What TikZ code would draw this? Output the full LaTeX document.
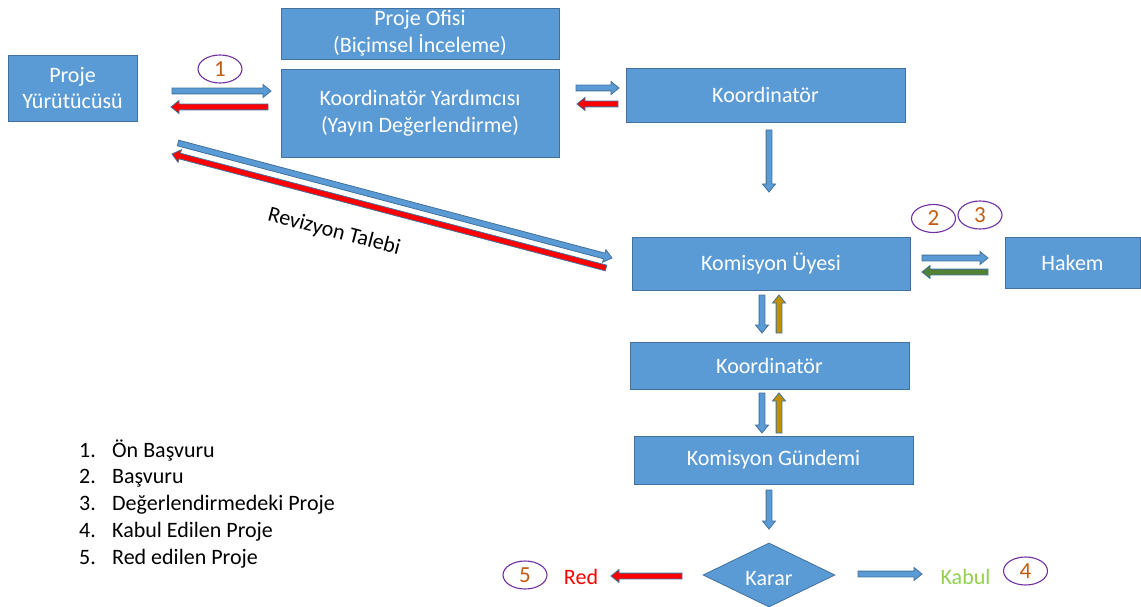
\documentclass[tikz,border=0pt]{standalone}
\usepackage{fontspec}
\setmainfont{Carlito}
\usetikzlibrary{calc,shapes.geometric}

\definecolor{boxblue}{HTML}{5B9BD5}
\definecolor{edgeblue}{HTML}{41719C}
\definecolor{arrred}{HTML}{FF0000}
\definecolor{arrgreen}{HTML}{548235}
\definecolor{arrgold}{HTML}{BF9000}
\definecolor{ringpurple}{HTML}{7030A0}
\definecolor{numorange}{HTML}{C55A11}
\definecolor{okgreen}{HTML}{92D050}

% block arrow: #1 fill colour, #2 tail, #3 tip
\newcommand\blockarrow[3]{%
  \filldraw[fill=#1, draw=edgeblue, line width=0.8pt, line join=miter]
    let \p1=#2, \p2=#3, \n1={atan2(\y2-\y1,\x2-\x1)} in
    ($(\p1)+(\n1+90:2.9pt)$)
    -- ($(\p2)+(\n1+180:8pt)+(\n1+90:2.9pt)$)
    -- ($(\p2)+(\n1+180:8pt)+(\n1+90:6.5pt)$)
    -- (\p2)
    -- ($(\p2)+(\n1+180:8pt)+(\n1-90:6.5pt)$)
    -- ($(\p2)+(\n1+180:8pt)+(\n1-90:2.9pt)$)
    -- ($(\p1)+(\n1-90:2.9pt)$) -- cycle;}

\begin{document}
\begin{tikzpicture}[x=1pt,y=-1pt,
  font=\fontsize{22}{26.8}\selectfont,
  box/.style={rectangle, fill=boxblue, draw=edgeblue, line width=0.8pt,
    text=white, align=center, inner sep=0pt},
  ring/.style={ellipse, draw=ringpurple, line width=1.1pt, text=numorange,
    font=\fontsize{23}{28}\selectfont,
    inner sep=0pt, minimum width=44pt, minimum height=28pt},
]
\useasboundingbox (0,0) rectangle (1141,607);

% process boxes
\node[box, minimum width=129pt, minimum height=66pt] (py) at (72.5,88) {Proje\\Yürütücüsü};
\node[box, minimum width=278pt, minimum height=51pt] (po) at (420,33.5) {Proje Ofisi\\(Biçimsel İnceleme)};
\node[box, minimum width=278pt, minimum height=88pt] (ky) at (420,113) {Koordinatör Yardımcısı\\(Yayın Değerlendirme)};
\node[box, minimum width=279pt, minimum height=54pt] (k1) at (765.5,95) {Koordinatör};
\node[box, minimum width=278pt, minimum height=53pt] (ku) at (771,263.5) {Komisyon Üyesi};
\node[box, minimum width=135pt, minimum height=51pt] (hk) at (1072.5,262.5) {Hakem};
\node[box, minimum width=279pt, minimum height=47pt] (k2) at (769.5,365.5) {Koordinatör};
\node[box, minimum width=279pt, minimum height=48pt] (kg) at (773.5,460) {Komisyon Gündemi};
\node[diamond, fill=boxblue, draw=edgeblue, line width=0.8pt, text=white,
  inner sep=0pt, aspect=2.06, minimum width=132pt, minimum height=64pt,
  text height=20pt, text depth=0pt] (kr) at (769,575) {Karar};

% outcomes
\node[text=arrred] (red) at (581,577) {Red};
\node[text=okgreen] (kabul) at (965.5,577) {Kabul};

% numbered rings
\node[ring] (n1) at (220,69) {1};
\node[ring] (n2) at (933.5,218.5) {2};
\node[ring] (n3) at (980,215) {3};
\node[ring] (n5) at (525,575) {5};
\node[ring] (n4) at (1025.5,571) {4};

% arrow end points
\coordinate (pyA) at (172,91);   \coordinate (kyA) at (271,91);
\coordinate (kyB) at (268,107);  \coordinate (pyB) at (171,107);
\coordinate (kyC) at (576,88);   \coordinate (k1C) at (619,88);
\coordinate (k1D) at (618,104);  \coordinate (kyD) at (577,104);
\coordinate (k1E) at (769,130);  \coordinate (kuE) at (769,192);
\coordinate (pyF) at (178,143);  \coordinate (kuF) at (612,258);
\coordinate (kuG) at (606,268);  \coordinate (pyG) at (172,154);
\coordinate (kuH) at (922,258);  \coordinate (hkH) at (988,258);
\coordinate (hkI) at (988,272);  \coordinate (kuI) at (922,272);
\coordinate (kuJ) at (762,295);  \coordinate (k2J) at (762,333);
\coordinate (k2K) at (779,333);  \coordinate (kuK) at (779,295);
\coordinate (k2L) at (762,393);  \coordinate (kgL) at (762,433);
\coordinate (kgM) at (779,433);  \coordinate (k2M) at (779,393);
\coordinate (kgN) at (769,490);  \coordinate (krN) at (769,529);
\coordinate (krO) at (682,576);  \coordinate (redO) at (611,576);
\coordinate (krP) at (858,574);  \coordinate (kabP) at (922,574);

% flow arrows
\blockarrow{boxblue}{(pyA)}{(kyA)}
\blockarrow{arrred}{(kyB)}{(pyB)}
\blockarrow{boxblue}{(kyC)}{(k1C)}
\blockarrow{arrred}{(k1D)}{(kyD)}
\blockarrow{boxblue}{(k1E)}{(kuE)}
\blockarrow{boxblue}{(pyF)}{(kuF)}
\blockarrow{arrred}{(kuG)}{(pyG)}
\blockarrow{boxblue}{(kuH)}{(hkH)}
\blockarrow{arrgreen}{(hkI)}{(kuI)}
\blockarrow{boxblue}{(kuJ)}{(k2J)}
\blockarrow{arrgold}{(k2K)}{(kuK)}
\blockarrow{boxblue}{(k2L)}{(kgL)}
\blockarrow{arrgold}{(kgM)}{(k2M)}
\blockarrow{boxblue}{(kgN)}{(krN)}
\blockarrow{arrred}{(krO)}{(redO)}
\blockarrow{boxblue}{(krP)}{(kabP)}

\node[rotate=-14.7] (rev) at (334,232) {Revizyon Talebi};

% legend
\foreach \i/\t [count=\k] in {1/Ön Başvuru, 2/Başvuru, 3/Değerlendirmedeki Proje,
    4/Kabul Edilen Proje, 5/Red edilen Proje} {
  \node[anchor=base west, inner sep=0pt] (leg\k) at (79,{457+26.75*(\k-1)})
    {\makebox[33pt][l]{\i.}\t};
}
\end{tikzpicture}
\end{document}
